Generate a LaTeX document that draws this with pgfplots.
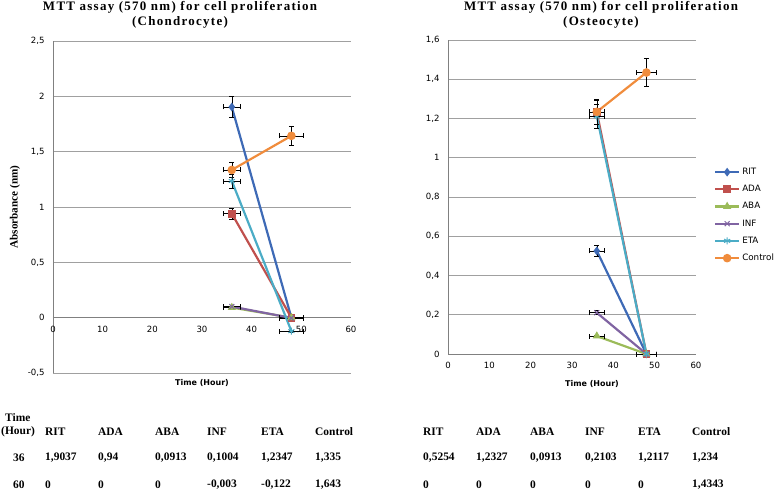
\documentclass[border=0pt]{standalone}
\usepackage{fontspec}
\setmainfont{Liberation Serif}
\newfontfamily\tickfont{DejaVu Sans}
\usepackage{pgfplots}
\pgfplotsset{compat=1.18}
\usepackage{pgfplotstable}

\definecolor{cRIT}{RGB}{62,106,182}
\definecolor{cADA}{RGB}{192,80,77}
\definecolor{cABA}{RGB}{155,187,89}
\definecolor{cINF}{RGB}{128,100,162}
\definecolor{cETA}{RGB}{75,172,198}
\definecolor{cCON}{RGB}{240,140,60}
\definecolor{gridgray}{RGB}{160,160,160}

% time, then one column per treatment (plotted at 36 h and 48 h)
\pgfplotstableread{
t RIT ADA ABA INF ETA Control
36 1.9037 0.94 0.0913 0.1004 1.2347 1.335
48 0 0 0 -0.003 -0.122 1.643
}\chondro

\pgfplotstableread{
t RIT ADA ABA INF ETA Control
36 0.5254 1.2327 0.0913 0.2103 1.2117 1.234
48 0 0 0 0 0 1.4343
}\osteo

\pgfplotsset{
  mttaxis/.style={
    anchor=north west, scale only axis,
    xmin=0, xmax=60, xtick={0,10,...,60},
    axis x line=middle, axis y line=left,
    axis line style={-, draw=gridgray!80!black, line width=0.9pt},
    hide obscured x ticks=false, hide obscured y ticks=false,
    ymajorgrids, grid style={gridgray, line width=0.9pt},
    major tick length=0pt,
    /pgf/number format/.cd, use comma, assume math mode=true, precision=2,
    /pgfplots/.cd,
    tick label style={font=\tickfont\fontsize{8.6}{10}\selectfont},
    yticklabel style={xshift=-5bp},
    xticklabel style={yshift=-5bp},
    label style={font=\tickfont\bfseries\fontsize{8}{9.6}\selectfont},
    clip=false,
  },
  ser/.style={color=#1, line width=2.2pt, mark options={solid, fill=#1, line width=1pt}},
  eb/.style={error bars/.cd, x dir=both, x fixed relative=0.05,
    y dir=both, y fixed relative=0.05, error mark=|,
    error bar style={black, line width=0.6pt},
    error mark options={black, line width=0.6pt, mark size=2.5bp}},
  legend image code/.code={
    \draw[mark repeat=2, mark phase=2, #1] plot coordinates {(0bp,0bp) (12bp,0bp) (24bp,0bp)};
  },
}

\begin{document}
\begin{tikzpicture}
\useasboundingbox (0,0) rectangle (778bp,-492bp);

% left: chondrocyte
\begin{axis}[mttaxis, at={(53bp,-41bp)}, width=298bp, height=332bp,
  ymin=-0.5, ymax=2.5, ytick={-0.5,0,...,2.5},
  xlabel={Time (Hour)},
  xlabel style={at={(rel axis cs:0.5,0)}, anchor=north, yshift=-3bp},
  ylabel={Absorbance (nm)},
  ylabel style={font=\bfseries\fontsize{11.2}{13}\selectfont, at={(rel axis cs:0,0.5)}, anchor=center, yshift=38bp},
]
\addplot[ser=cRIT, mark=diamond*, mark size=3.6bp, eb] table[x=t, y=RIT] {\chondro};
\addplot[ser=cADA, mark=square*, mark size=3.4bp, eb] table[x=t, y=ADA] {\chondro};
\addplot[ser=cABA, mark=triangle*, mark size=3.8bp, eb] table[x=t, y=ABA] {\chondro};
\addplot[ser=cINF, mark=x, mark size=3.5bp, eb] table[x=t, y=INF] {\chondro};
\addplot[ser=cETA, mark=asterisk, mark size=3.5bp, eb] table[x=t, y=ETA] {\chondro};
\addplot[ser=cCON, mark=*, mark size=3.8bp, eb] table[x=t, y=Control] {\chondro};
\end{axis}

% right: osteocyte
\begin{axis}[mttaxis, at={(448bp,-40bp)}, width=248bp, height=314bp,
  ymin=0, ymax=1.6, ytick={0,0.2,...,1.6},
  xlabel={Time (Hour)},
  xlabel style={at={(rel axis cs:0.5,0)}, anchor=north, yshift=-23bp, xshift=20bp},
  legend style={at={(rel axis cs:1.06,0.605)}, anchor=north west, draw=none, fill=none,
    font=\tickfont\fontsize{8.8}{10}\selectfont, row sep=5.3bp},
  legend cell align=left,
]
\addplot[ser=cRIT, mark=diamond*, mark size=3.6bp, eb] table[x=t, y=RIT] {\osteo};
\addlegendentry{RIT}
\addplot[ser=cADA, mark=square*, mark size=3.4bp, eb] table[x=t, y=ADA] {\osteo};
\addlegendentry{ADA}
\addplot[ser=cABA, mark=triangle*, mark size=3.8bp, eb] table[x=t, y=ABA] {\osteo};
\addlegendentry{ABA}
\addplot[ser=cINF, mark=x, mark size=3.5bp, eb] table[x=t, y=INF] {\osteo};
\addlegendentry{INF}
\addplot[ser=cETA, mark=asterisk, mark size=3.5bp, eb] table[x=t, y=ETA] {\osteo};
\addlegendentry{ETA}
\addplot[ser=cCON, mark=*, mark size=3.8bp, eb] table[x=t, y=Control] {\osteo};
\addlegendentry{Control}
\end{axis}

% titles
\node[font=\bfseries\fontsize{13}{14.5}\selectfont\addfontfeature{LetterSpace=10}, align=center]
  at (180bp,-15bp) {MTT assay (570 nm) for cell proliferation\\(Chondrocyte)};
\node[font=\bfseries\fontsize{13}{14.5}\selectfont\addfontfeature{LetterSpace=10}, align=center]
  at (601bp,-15bp) {MTT assay (570 nm) for cell proliferation\\(Osteocyte)};

% value tables under the charts
\begin{scope}[every node/.style={font=\bfseries\fontsize{11.5}{13}\selectfont, anchor=west, inner sep=0pt}]
\node at (5bp,-418bp) {Time};
\node at (1bp,-432bp) {(Hour)};
\node at (13bp,-458bp) {36};
\node at (13bp,-485bp) {60};
\foreach \x/\h/\a/\b in {45/RIT/{1,9037}/0, 98/ADA/{0,94}/0, 155/ABA/{0,0913}/0,
    207/INF/{0,1004}/{-0,003}, 261/ETA/{1,2347}/{-0,122}, 315/Control/{1,335}/{1,643}}{
  \node at (\x bp,-432bp) {\h};
  \node at (\x bp,-458bp) {\a};
  \node at (\x bp,-485bp) {\b};
}
\foreach \x/\h/\a/\b in {423/RIT/{0,5254}/0, 476/ADA/{1,2327}/0, 530/ABA/{0,0913}/0,
    585/INF/{0,2103}/0, 638/ETA/{1,2117}/0, 692/Control/{1,234}/{1,4343}}{
  \node at (\x bp,-432bp) {\h};
  \node at (\x bp,-458bp) {\a};
  \node at (\x bp,-485bp) {\b};
}
\end{scope}
\end{tikzpicture}
\end{document}
